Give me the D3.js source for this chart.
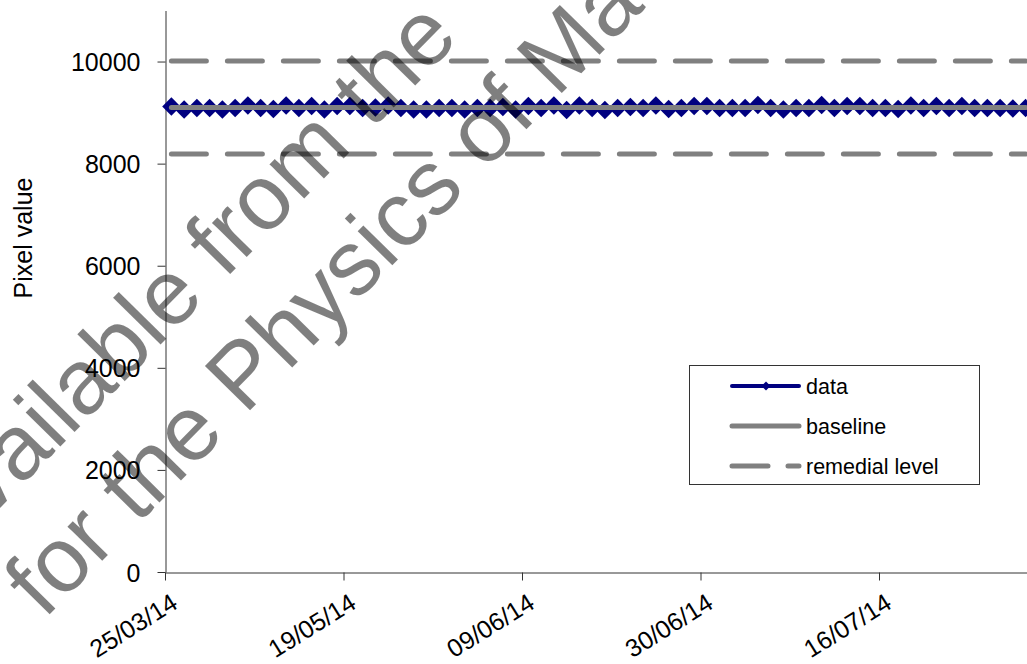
<!DOCTYPE html>
<html>
<head>
<meta charset="utf-8">
<script src="https://cdn.jsdelivr.net/npm/d3@7"></script>
<style>
  html, body { margin: 0; padding: 0; background: #fff; overflow: hidden; }
  svg { display: block; }
  text { font-family: "Liberation Sans", Arial, sans-serif; }
</style>
</head>
<body>
<svg id="chart" width="1027" height="664"></svg>
<script>
// Daily QC pixel values, one per measurement session
const pixelValues = [
  9120, 9060, 9090, 9090, 9060, 9090, 9140, 9090, 9070, 9140,
  9090, 9130, 9060, 9130, 9130, 9090, 9100, 9140, 9090, 9060,
  9060, 9090, 9090, 9060, 9090, 9090, 9110, 9060, 9130, 9090,
  9140, 9050, 9140, 9090, 9050, 9090, 9110, 9090, 9140, 9070,
  9090, 9130, 9130, 9090, 9090, 9090, 9150, 9090, 9060, 9090,
  9090, 9150, 9090, 9130, 9130, 9090, 9090, 9070, 9140, 9090,
  9130, 9090, 9130, 9090, 9090, 9090, 9080, 9090
];
// Category labels shown every 14 sessions
const tickLabels = ["25/03/14", "19/05/14", "09/06/14", "30/06/14", "16/07/14"];
const labelEvery = 14;
const baselineValue = 9100;
const remedialLevels = [8190, 10010];
const yTicks = [0, 2000, 4000, 6000, 8000, 10000];
const legendItems = ["data", "baseline", "remedial level"];

const svg = d3.select("#chart");
const n = pixelValues.length;
const font = '"Liberation Sans", Arial, sans-serif';

// category boundaries on a linear scale; point k sits at k + 0.5
const x = d3.scaleLinear().domain([0, n]).range([165, 165 + n * 12.75]);
const y = d3.scaleLinear().domain([0, 11000]).range([572, 10.5]);

// y axis
const yAxis = svg.append("g")
  .attr("transform", "translate(165.5,0)")
  .call(d3.axisLeft(y).tickValues(yTicks).tickSize(8).tickSizeOuter(0).tickPadding(17).tickFormat(d3.format("d")));
yAxis.select(".domain").attr("stroke", "#333");
yAxis.selectAll(".tick line").attr("stroke", "#333");
yAxis.selectAll(".tick text").attr("font-size", 25).attr("font-family", font).attr("fill", "#000").attr("dy", "0.36em");

// x axis (ticks at category boundaries)
const xAxis = svg.append("g")
  .attr("transform", "translate(0,572.5)")
  .call(d3.axisBottom(x)
    .tickValues(tickLabels.map((d, i) => i * labelEvery))
    .tickSize(8).tickSizeOuter(0).tickFormat(""));
xAxis.select(".domain").attr("stroke", "#333");
xAxis.selectAll(".tick line").attr("stroke", "#333");

// rotated category labels anchored at their category centre
svg.append("g").selectAll("text")
  .data(tickLabels)
  .join("text")
  .attr("text-anchor", "end")
  .attr("font-size", 25)
  .attr("fill", "#000")
  .attr("transform", (d, i) => `translate(${x(i * labelEvery + 0.5) + 8},607) rotate(-32)`)
  .text(d => d);

// y axis title
svg.append("text")
  .attr("transform", "translate(32,238) rotate(-90)")
  .attr("text-anchor", "middle")
  .attr("font-size", 25)
  .attr("fill", "#000")
  .text("Pixel value");

const x0 = x(0.5), x1 = x(n - 0.5);

// data series: line plus diamond markers
const line = d3.line().x((d, i) => x(i + 0.5)).y(d => y(d));
svg.append("path")
  .datum(pixelValues)
  .attr("d", line)
  .attr("fill", "none")
  .attr("stroke", "#000080")
  .attr("stroke-width", 4);

const diamond = {
  draw(ctx, size) {
    const r = Math.sqrt(size / 2);
    ctx.moveTo(0, -r); ctx.lineTo(r, 0); ctx.lineTo(0, r); ctx.lineTo(-r, 0); ctx.closePath();
  }
};
svg.append("g").selectAll("path")
  .data(pixelValues)
  .join("path")
  .attr("transform", (d, i) => `translate(${x(i + 0.5)},${y(d)})`)
  .attr("d", d3.symbol(diamond, 2 * 9.2 * 9.2))
  .attr("fill", "#000080");

// baseline
svg.append("line")
  .attr("x1", x0).attr("x2", x1)
  .attr("y1", y(baselineValue)).attr("y2", y(baselineValue))
  .attr("stroke", "#808080").attr("stroke-width", 5).attr("stroke-linecap", "round");

// remedial levels
svg.append("g").selectAll("line")
  .data(remedialLevels)
  .join("line")
  .attr("x1", x0).attr("x2", x1)
  .attr("y1", d => y(d)).attr("y2", d => y(d))
  .attr("stroke", "#808080").attr("stroke-width", 5)
  .attr("stroke-linecap", "round")
  .attr("stroke-dasharray", "35 21");

// legend
const lg = svg.append("g");
lg.append("rect")
  .attr("x", 689.5).attr("y", 365.5).attr("width", 290).attr("height", 119)
  .attr("fill", "#fff").attr("stroke", "#333").attr("stroke-width", 1);
const rows = [386, 426, 466];
legendItems.forEach((name, i) => {
  const ly = rows[i];
  const seg = lg.append("line")
    .attr("x1", 732).attr("x2", 799).attr("y1", ly).attr("y2", ly)
    .attr("stroke-width", 5).attr("stroke-linecap", "round");
  if (i === 0) {
    seg.attr("stroke", "#000080").attr("stroke-width", 4);
    lg.append("path")
      .attr("transform", `translate(766,${ly})`)
      .attr("d", d3.symbol(diamond, 2 * 4.5 * 4.5))
      .attr("fill", "#000080");
  } else {
    seg.attr("stroke", "#808080");
    if (i === 2) seg.attr("stroke-dasharray", "36 20");
  }
  lg.append("text")
    .attr("x", 806).attr("y", ly).attr("dy", "0.36em")
    .attr("font-size", 21.5).attr("fill", "#000")
    .text(name);
});

// diagonal notice across the plot
const wm = svg.append("g")
  .attr("fill", "#000").attr("fill-opacity", 0.5)
  .attr("font-size", 92);
wm.append("text").attr("transform", "translate(-54,563) rotate(-45.5)").text("Available from the");
wm.append("text").attr("transform", "translate(44,620) rotate(-45.5)").text("for the Physics of Ma");
</script>
</body>
</html>
